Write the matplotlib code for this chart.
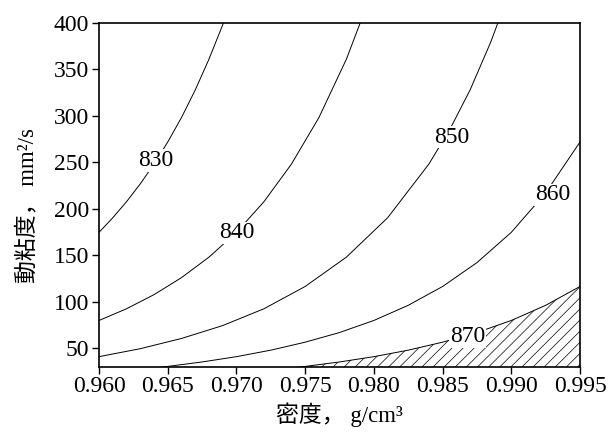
import matplotlib
matplotlib.use("Agg")
import matplotlib.pyplot as plt

plt.rcParams['font.family'] = ['Liberation Serif', 'Noto Sans CJK JP', 'DejaVu Sans']
plt.rcParams['hatch.linewidth'] = 0.5

# contour lines: density (g/cm3) vs kinematic viscosity (mm2/s)
d_830 = [0.960, 0.961, 0.962, 0.963, 0.964, 0.965, 0.966, 0.967, 0.968, 0.969, 0.970]
v_830 = [174.5, 190.2, 207.5, 226.7, 248.0, 271.8, 298.1, 327.8, 361.0, 398.0, 438.8]

d_840 = [0.960, 0.962, 0.964, 0.966, 0.968, 0.970, 0.972, 0.974, 0.976, 0.978, 0.980]
v_840 = [79.6, 92.2, 107.4, 125.7, 147.8, 174.5, 207.5, 248.0, 298.1, 361.0, 438.8]

d_850 = [0.960, 0.963, 0.966, 0.969, 0.972, 0.975, 0.978, 0.981, 0.984, 0.9855, 0.987, 0.9885, 0.990]
v_850 = [40.6, 49.2, 60.2, 74.1, 92.2, 116.2, 147.8, 190.2, 248.0, 284.6, 327.8, 379.3, 438.8]

d_860 = [0.9645, 0.965, 0.9675, 0.970, 0.9725, 0.975, 0.9775, 0.980, 0.9825, 0.985,
         0.9875, 0.990, 0.9925, 0.995]
v_860 = [29.3, 30.1, 34.9, 40.6, 47.6, 56.2, 66.6, 79.6, 95.9, 116.2, 141.9, 174.5, 217.0, 271.8]

d_870 = [0.9745, 0.975, 0.9775, 0.980, 0.9825, 0.985, 0.9875, 0.990, 0.9925, 0.995]
v_870 = [29.3, 30.1, 34.9, 40.6, 47.6, 56.2, 66.6, 79.6, 95.9, 116.2]

levels = ['830', '840', '850', '860', '870']
lines_d = [d_830, d_840, d_850, d_860, d_870]
lines_v = [v_830, v_840, v_850, v_860, v_870]

# label positions (data coords)
label_d = [0.9641, 0.9700, 0.9857, 0.9930, 0.9868]
label_v = [252, 174, 277, 215, 62]

x_ticks = [0.960, 0.965, 0.970, 0.975, 0.980, 0.985, 0.990, 0.995]
y_ticks = [50, 100, 150, 200, 250, 300, 350, 400]

fig = plt.figure(figsize=(6.09, 4.32), dpi=100)
ax = fig.add_axes([0.1626, 0.1516, 0.7898, 0.7952])

for d, v in zip(lines_d, lines_v):
    ax.plot(d, v, color='black', lw=0.7)

# hatched area below the 870 line
ax.fill_between(d_870, 0, v_870, facecolor='none', edgecolor='black',
                hatch='///', linewidth=0)

for lab, x, y in zip(levels, label_d, label_v):
    ax.text(x, y, lab, ha='center', va='center', fontsize=17,
            bbox=dict(facecolor='white', edgecolor='none', pad=0.5), zorder=5)

ax.set_xlim(0.960, 0.995)
ax.set_ylim(30, 400)
ax.set_xticks(x_ticks)
ax.set_xticklabels([f'{t:.3f}' for t in x_ticks])
ax.set_yticks(y_ticks)
ax.tick_params(axis='both', direction='out', length=5, width=1, labelsize=17,
               top=False, right=False, pad=2)

for s in ax.spines.values():
    s.set_linewidth(1.2)

ax.set_xlabel('密度， g/cm³', fontsize=16.5, labelpad=4)
ax.set_ylabel('動粘度， mm²/s', fontsize=16.5)
ax.yaxis.set_label_coords(-0.125, 0.47)

fig.savefig('out.png', dpi=100)
